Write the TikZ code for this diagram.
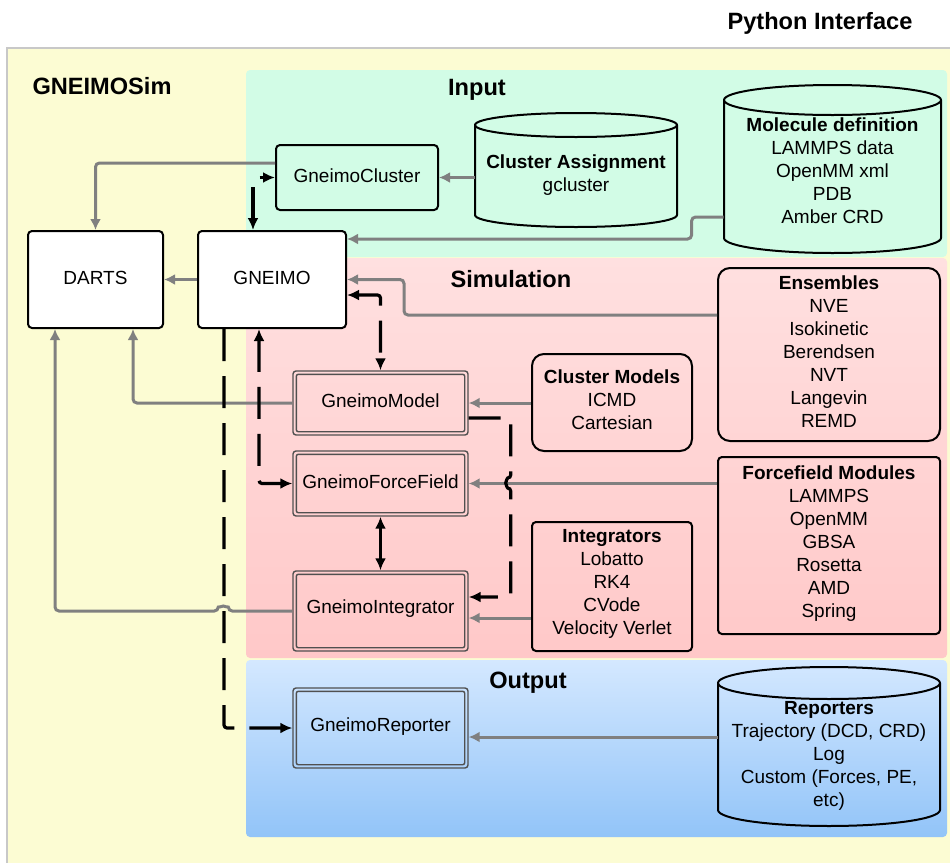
\documentclass[tikz,border=0pt]{standalone}
\usepackage{fontspec}
\setmainfont{Liberation Sans}
\usetikzlibrary{arrows.meta,fit,calc}
\definecolor{yel}{RGB}{252,252,211}
\definecolor{mint}{RGB}{210,252,230}
\definecolor{pinkA}{RGB}{255,224,224}
\definecolor{pinkB}{RGB}{255,200,200}
\definecolor{bluA}{RGB}{212,232,255}
\definecolor{bluB}{RGB}{146,196,248}
\definecolor{framec}{RGB}{200,200,200}
\definecolor{conn}{RGB}{128,128,128}
\definecolor{dblc}{RGB}{80,80,80}
\begin{document}
\begin{tikzpicture}[x=0.5pt,y=0.5pt,
  every node/.style={font=\fontsize{9.5}{11.5}\selectfont, align=center},
  ttl/.style={font=\fontsize{11.8}{14}\selectfont\bfseries},
  blackbox/.style={draw=black, line width=1pt, inner sep=0pt, rounded corners=2pt},
  rbox/.style={blackbox, rounded corners=6pt},
  dblbox/.style={draw=dblc, line width=0.7pt, inner sep=0pt, rounded corners=1.5pt},
  innerline/.style={draw=dblc, line width=0.7pt, rounded corners=1pt},
  garr/.style={draw=conn, line width=1.5pt, rounded corners=2pt, -{Latex[length=5.5pt,width=5.5pt]}},
  darr/.style={draw=black, line width=1.6pt, dash pattern=on 16pt off 7.5pt, rounded corners=1.5pt},
  endtip/.style={-{Latex[length=6pt,width=5.5pt]}},
  bothtip/.style={{Latex[length=6pt,width=5.5pt]}-{Latex[length=6pt,width=5.5pt]}},
  cylline/.style={draw=black, line width=1pt},
]
\useasboundingbox (0,0) rectangle (950,-863);
% background regions
\fill[yel] (7,-48) rectangle (952,-865);
\draw[framec, line width=1pt] (7,-865) -- (7,-48) -- (952,-48);
\fill[mint, rounded corners=2pt] (246,-70) rectangle (947,-257);
\shade[top color=pinkA, bottom color=pinkB, rounded corners=2pt] (246,-258) rectangle (947,-658);
\shade[top color=bluA, bottom color=bluB, rounded corners=2pt] (246,-660) rectangle (947,-837);

% titles
\node[ttl] (tpy) at (820,-23) {Python Interface};
\node[ttl] (tsim) at (102,-86) {GNEIMOSim};
\node[ttl] (tin) at (477,-90) {Input};
\node[ttl] (tsimu) at (511,-279) {Simulation};
\node[ttl] (tout) at (528,-683) {Output};

% cylinders
\filldraw[cylline, fill=mint] (475,-125) -- (475,-215) arc[start angle=180,end angle=360,x radius=101,y radius=12] -- (677,-125) arc[start angle=0,end angle=180,x radius=101,y radius=12] -- cycle;
\draw[cylline] (475,-125) arc[start angle=180,end angle=360,x radius=101,y radius=12];
\node[inner sep=0pt, fit={(475,-113)(677,-227)}] (ca) {};
\node (catext) at (576,-175) {\textbf{Cluster Assignment}\\gcluster};

\filldraw[cylline, fill=mint] (724,-100) -- (724,-238) arc[start angle=180,end angle=360,x radius=108.5,y radius=15] -- (941,-100) arc[start angle=0,end angle=180,x radius=108.5,y radius=15] -- cycle;
\draw[cylline] (724,-100) arc[start angle=180,end angle=360,x radius=108.5,y radius=15];
\node[inner sep=0pt, fit={(724,-85)(941,-253)}] (mol) {};
\node (moltext) at (832.5,-171) {\textbf{Molecule definition}\\LAMMPS data\\OpenMM xml\\PDB\\Amber CRD};

\draw[cylline] (718,-683) -- (718,-810) arc[start angle=180,end angle=360,x radius=111,y radius=16] -- (940,-683) arc[start angle=0,end angle=180,x radius=111,y radius=16] -- cycle;
\draw[cylline] (718,-683) arc[start angle=180,end angle=360,x radius=111,y radius=16];
\node[inner sep=0pt, fit={(718,-667)(940,-826)}] (rep) {};
\node (reptext) at (829,-756) {\textbf{Reporters}\\Trajectory (DCD, CRD)\\Log\\Custom (Forces, PE,\\etc)};

% main boxes
\node[blackbox, fill=mint, fit={(276,-145)(438,-210)}] (gc) {};
\node[blackbox, fill=white, fit={(198,-231)(346,-328)}] (gneimo) {};
\node[blackbox, fill=white, fit={(28,-231)(163,-328)}] (darts) {};
\node[dblbox, fit={(293,-371)(468,-435)}] (gm) {};
\node[dblbox, fit={(293,-451)(468,-516)}] (gff) {};
\node[dblbox, fit={(293,-571)(468,-651)}] (gi) {};
\node[dblbox, fit={(293,-688)(468,-768)}] (gr) {};
\foreach \n in {gm,gff,gi,gr}
  \draw[innerline] ([shift={(4,-4)}]\n.north west) rectangle ([shift={(-4,4)}]\n.south east);
\node (gctext) at ([shift={(0,2)}]gc.center) {GneimoCluster};
\node (gneimotext) at ([shift={(0,2)}]gneimo.center) {GNEIMO};
\node (dartstext) at ([shift={(0,2)}]darts.center) {DARTS};
\node (gmtext) at ([shift={(0,2)}]gm.center) {GneimoModel};
\node (gfftext) at ([shift={(0,2)}]gff.center) {GneimoForceField};
\node (gitext) at ([shift={(0,2)}]gi.center) {GneimoIntegrator};
\node (grtext) at ([shift={(0,1)}]gr.center) {GneimoReporter};

% info boxes
\node[rbox, fit={(532,-354)(692,-451)}] (cm) {};
\node (cmtext) at ([shift={(0,2.5)}]cm.center) {\textbf{Cluster Models}\\ICMD\\Cartesian};
\node[blackbox, fit={(532,-522)(692,-651)}] (integ) {};
\node (integtext) at ([shift={(0,2.5)}]integ.center) {\textbf{Integrators}\\Lobatto\\RK4\\CVode\\Velocity Verlet};
\node[rbox, fit={(718,-268)(940,-441)}] (ens) {};
\node (enstext) at ([shift={(0,2.5)}]ens.center) {\textbf{Ensembles}\\NVE\\Isokinetic\\Berendsen\\NVT\\Langevin\\REMD};
\node[blackbox, fit={(718,-457)(940,-634)}] (ffm) {};
\node (ffmtext) at ([shift={(0,1.5)}]ffm.center) {\textbf{Forcefield Modules}\\LAMMPS\\OpenMM\\GBSA\\Rosetta\\AMD\\Spring};

% gray connectors
\draw[garr] ([shift={(0,14.5)}]gc.west) -| (darts.north);
\draw[garr] (ca.west |- gc.east) -- (gc.east);
\draw[garr] ([shift={(0,-48)}]mol.west) -- ++(-32,0) |- ([shift={(0,40.5)}]gneimo.east);
\draw[garr] ([shift={(0,39.5)}]ens.west) -- ++(-313,0) |- (gneimo.east);
\draw[garr] (gneimo.west) -- (darts.east);
\draw[garr] (gm.west) -| ([shift={(37.5,0)}]darts.south);
\draw[garr] (gi.west) -- ++(-64,0) arc[start angle=0,end angle=180,radius=5] -| ([shift={(-40.5,0)}]darts.south);
\draw[garr] (cm.west |- gm.east) -- (gm.east);
\draw[garr] (ffm.west |- gff.east) -- (gff.east);
\draw[garr] ([shift={(0,-31.5)}]integ.west) coordinate (i1) -- (i1 -| gi.east);
\draw[garr] ([shift={(0,9.5)}]rep.west) coordinate (r1) -- (r1 -| gr.east);

% black dashed connectors
\draw[darr, bothtip] ([shift={(-19,0)}]gneimo.north) |- (gc.west);
\draw[darr, bothtip] ([shift={(0,-15.5)}]gneimo.east) -| (gm.north);
\draw[darr, bothtip] ([shift={(-13,0)}]gneimo.south) |- (gff.west);
\draw[darr, bothtip] (gff.south) -- (gi.north);
\draw[darr, endtip] ([shift={(0,-15)}]gm.east) -- ++(42,0) -- ++(0,-60) arc[start angle=90,end angle=270,radius=5] |- ([shift={(0,14)}]gi.east);
\draw[darr, endtip] ([shift={(-48,0)}]gneimo.south) |- (gr.west);
\end{tikzpicture}
\end{document}
